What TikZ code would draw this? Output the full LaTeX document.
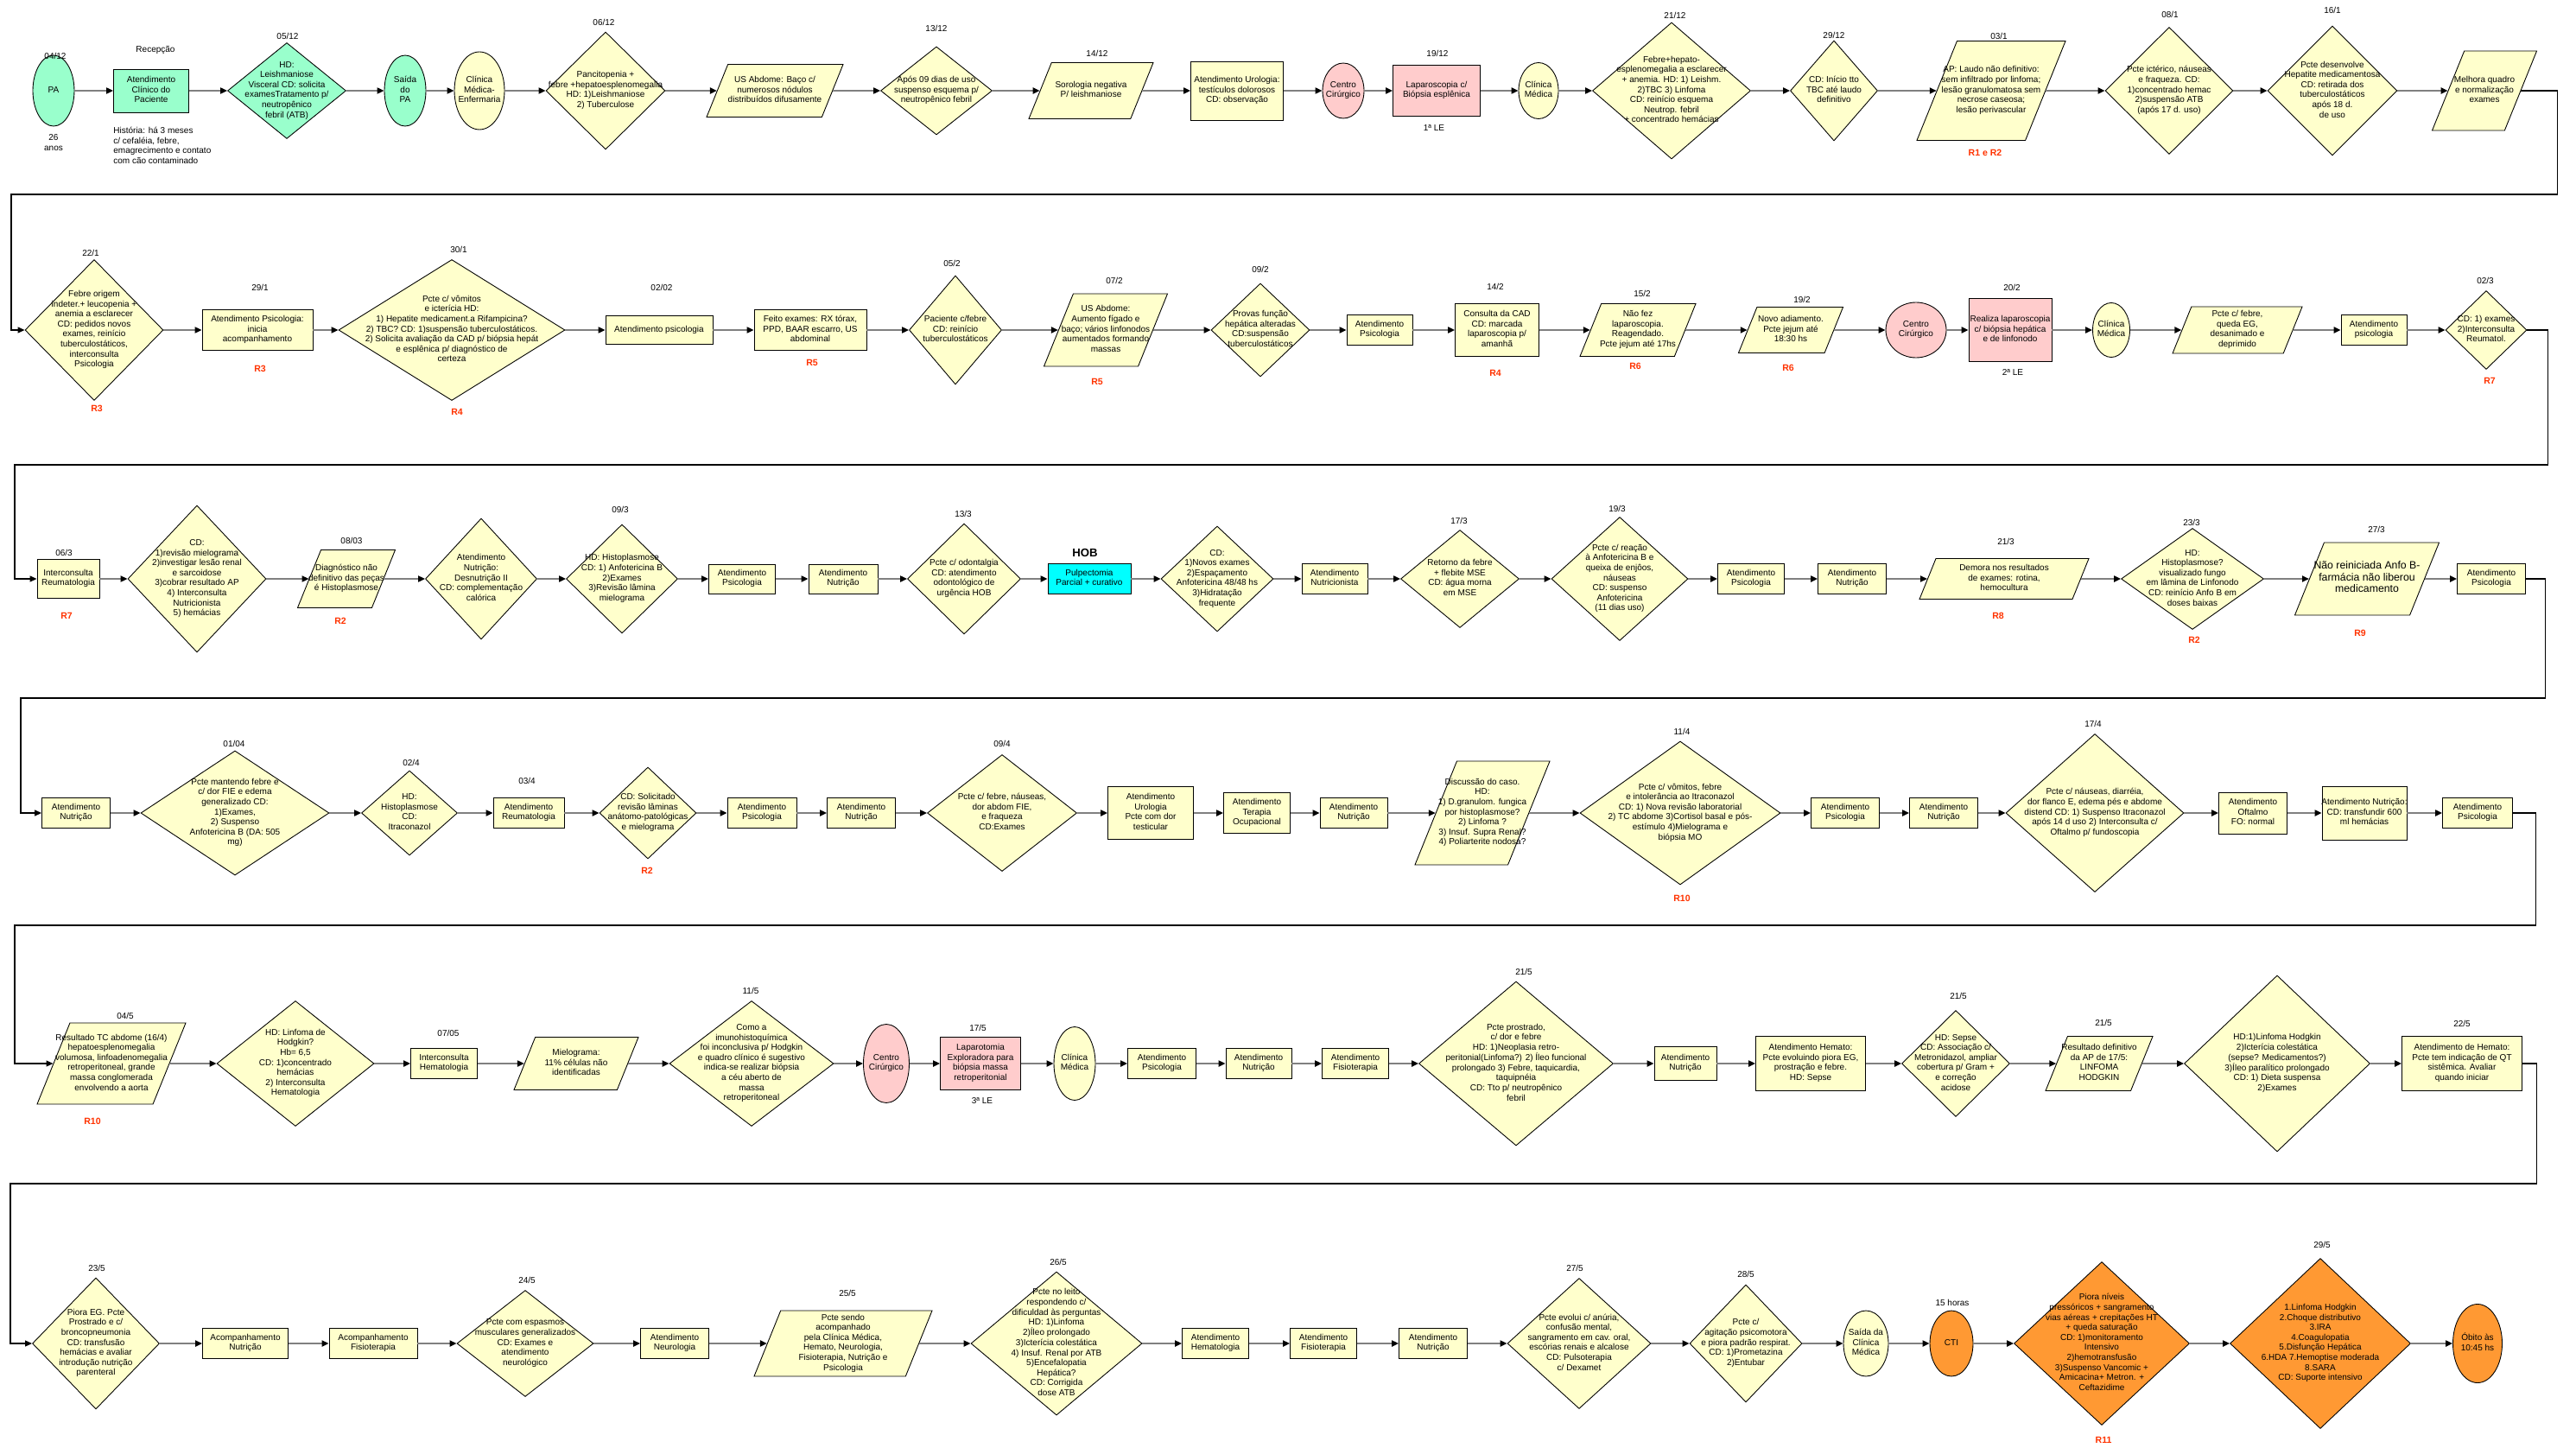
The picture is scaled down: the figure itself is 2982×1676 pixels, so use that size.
\documentclass[tikz,border=0pt]{standalone}
\usepackage{fontspec}
\setmainfont{Liberation Sans}
\usetikzlibrary{shapes.geometric,arrows.meta}
\definecolor{ChartYellow}{HTML}{FFFFCC}
\definecolor{ChartGreen}{HTML}{99FFCC}
\definecolor{ChartPink}{HTML}{FFCCCC}
\definecolor{ChartCyan}{HTML}{00FFFF}
\definecolor{ChartOrange}{HTML}{FF9933}
\definecolor{ChartRed}{HTML}{FF3300}
\definecolor{ChartGray}{HTML}{808080}
\newcommand{\nodetext}[1]{\makebox[0pt]{\smash{\raisebox{-1.4pt}{\begin{tabular}{@{}c@{}}#1\end{tabular}}}}}

\begin{document}
\begin{tikzpicture}[x=0.02cm, y=-0.02cm,
    font=\fontsize{5.7}{6.6}\selectfont,
    shp/.style={draw=black, line width=0.5pt, inner sep=0pt, fill=ChartYellow},
    box/.style 2 args={shp, rectangle, minimum width=#1*0.02cm, minimum height=#2*0.02cm},
    dia/.style 2 args={shp, diamond, minimum width=#1*0.02cm, minimum height=#2*0.02cm},
    oval/.style 2 args={shp, ellipse, minimum width=#1*0.02cm, minimum height=#2*0.02cm},
    para/.style 2 args={shp, trapezium, trapezium left angle=68, trapezium right angle=112,
        trapezium stretches body, minimum width=#1*0.02cm,
        text height=#2*0.01cm, text depth=#2*0.01cm},
    date/.style={inner sep=0pt},
    rtag/.style={inner sep=0pt, text=ChartRed, font=\fontsize{6}{7}\selectfont\bfseries},
    flow/.style={draw=ChartGray, line width=0.045cm, -{Triangle[length=0.16cm, width=0.14cm, color=black]}},
    ret/.style={draw=black, line width=0.6pt, -{Triangle[length=0.16cm, width=0.14cm]}}]
    \useasboundingbox[fill=white] (0,0) rectangle (2982,1676);

    % row 1
    \node[oval={48}{82}, fill=ChartGreen] (n1) at (62,105) {\nodetext{PA}};
    \node[box={87}{50}, fill=ChartGreen] (n2) at (175,105) {\nodetext{Atendimento\\Clínico do\\Paciente}};
    \node[dia={137}{111}, fill=ChartGreen] (n3) at (332,105) {\nodetext{HD:\\Leishmaniose\\Visceral  CD: solicita\\examesTratamento p/\\neutropênico\\febril (ATB)}};
    \node[oval={48}{82}, fill=ChartGreen] (n4) at (469,105) {\nodetext{Saída\\do\\PA}};
    \node[oval={58}{90}] (n5) at (555,105) {\nodetext{Clínica\\Médica-\\Enfermaria}};
    \node[dia={138}{136}] (n6) at (701,105) {\nodetext{Pancitopenia +\\febre +hepatoesplenomegalia\\HD: 1)Leishmaniose\\2) Tuberculose}};
    \node[para={158}{61}] (n7) at (897,105) {\nodetext{US Abdome: Baço c/\\numerosos nódulos\\distribuídos difusamente}};
    \node[dia={129}{102}] (n8) at (1084,105) {\nodetext{Após 09 dias de uso\\suspenso esquema p/\\neutropênico febril}};
    \node[para={144}{65}] (n9) at (1263,105) {\nodetext{Sorologia negativa\\P/ leishmaniose}};
    \node[box={107}{68}] (n10) at (1432,105) {\nodetext{Atendimento Urologia:\\testículos dolorosos\\CD: observação}};
    \node[oval={48}{64}, fill=ChartPink] (n11) at (1555,105) {\nodetext{Centro\\Cirúrgico}};
    \node[box={101}{59}, fill=ChartPink] (n12) at (1663,105) {\nodetext{Laparoscopia c/\\Biópsia esplênica}};
    \node[oval={46}{65}] (n13) at (1781,105) {\nodetext{Clínica\\Médica}};
    \node[dia={183}{158}] (n14) at (1935,105) {\nodetext{Febre+hepato-\\esplenomegalia a esclarecer\\+ anemia. HD: 1) Leishm.\\2)TBC 3) Linfoma\\CD: reinício esquema\\Neutrop. febril\\+ concentrado hemácias}};
    \node[dia={101}{116}] (n15) at (2123,105) {\nodetext{CD: Início tto\\TBC até laudo\\definitivo}};
    \node[para={172}{115}] (n16) at (2305,105) {\nodetext{AP: Laudo não definitivo:\\sem infiltrado por linfoma;\\lesão granulomatosa sem\\necrose caseosa;\\lesão perivascular}};
    \node[dia={148}{147}] (n17) at (2511,105) {\nodetext{Pcte ictérico, náuseas\\e fraqueza. CD:\\1)concentrado hemac\\2)suspensão ATB\\(após 17 d. uso)}};
    \node[dia={150}{150}] (n18) at (2700,105) {\nodetext{Pcte desenvolve\\Hepatite medicamentosa\\CD: retirada dos\\tuberculostáticos\\após 18 d.\\de uso}};
    \node[para={121}{92}] (n19) at (2876,105) {\nodetext{Melhora quadro\\e normalização\\exames}};

    \node[date] (d1) at (64,65) {04/12};
    \node[date, align=center] (age) at (62,165) {26\\anos};
    \node[date] (recep) at (180,58) {Recepção};
    \node[date, align=left, anchor=north west] (hist) at (131,147)
        {História: há 3 meses\\c/ cefaléia, febre,\\emagrecimento e contato\\com cão contaminado};
    \node[date] (d3) at (333,42) {05/12};
    \node[date] (d6) at (699,26) {06/12};
    \node[date] (d8) at (1084,33) {13/12};
    \node[date] (d9) at (1270,62) {14/12};
    \node[date] (d12) at (1664,62) {19/12};
    \node[date] (le1) at (1660,148) {1ª LE};
    \node[date] (d14) at (1939,18) {21/12};
    \node[date] (d15) at (2123,41) {29/12};
    \node[date] (d16) at (2314,42) {03/1};
    \node[rtag] (r16) at (2298,177) {R1  e R2};
    \node[date] (d17) at (2512,17) {08/1};
    \node[date] (d18) at (2700,12) {16/1};

    % row 2
    \node[dia={160}{163}] (n20) at (109,382) {\nodetext{Febre origem\\indeter.+ leucopenia +\\anemia  a esclarecer\\CD: pedidos novos\\exames, reinício\\tuberculostáticos,\\interconsulta\\Psicologia}};
    \node[box={128}{47}] (n21) at (298,382) {\nodetext{Atendimento Psicologia:\\inicia\\acompanhamento}};
    \node[dia={262}{163}] (n22) at (523,382) {\nodetext{Pcte c/ vômitos\\e icterícia HD:\\1) Hepatite medicament.a Rifampicina?\\2) TBC? CD: 1)suspensão tuberculostáticos.\\2) Solicita avaliação da CAD p/ biópsia hepát\\e esplênica p/ diagnóstico de\\certeza}};
    \node[box={124}{33}] (n23) at (763,382) {\nodetext{Atendimento psicologia}};
    \node[box={130}{47}] (n24) at (938,382) {\nodetext{Feito exames: RX tórax,\\PPD, BAAR escarro, US\\abdominal}};
    \node[dia={107}{126}] (n25) at (1106,382) {\nodetext{Paciente c/febre\\CD: reinício\\tuberculostáticos}};
    \node[para={143}{84}] (n26) at (1280,382) {\nodetext{US Abdome:\\Aumento fígado e\\baço; vários linfonodos\\aumentados formando\\massas}};
    \node[dia={114}{108}] (n27) at (1459,382) {\nodetext{Provas função\\hepática alteradas\\CD:suspensão\\tuberculostáticos}};
    \node[box={76}{35}] (n28) at (1597,382) {\nodetext{Atendimento\\Psicologia}};
    \node[box={97}{61}] (n29) at (1733,382) {\nodetext{Consulta da CAD\\CD: marcada\\laparoscopia p/\\amanhã}};
    \node[para={134}{61}] (n30) at (1896,382) {\nodetext{Não fez\\laparoscopia.\\Reagendado.\\Pcte jejum até 17hs}};
    \node[para={121}{53}] (n31) at (2073,382) {\nodetext{Novo adiamento.\\Pcte jejum até\\18:30 hs}};
    \node[oval={70}{64}, fill=ChartPink] (n32) at (2218,382) {\nodetext{Centro\\Cirúrgico}};
    \node[box={96}{73}, fill=ChartPink] (n33) at (2327,382) {\nodetext{Realiza laparoscopia\\c/ biópsia hepática\\e de linfonodo}};
    \node[oval={43}{63}] (n34) at (2444,382) {\nodetext{Clínica\\Médica}};
    \node[para={150}{54}] (n35) at (2590,382) {\nodetext{Pcte  c/ febre,\\queda EG,\\desanimado e\\deprimido}};
    \node[box={76}{35}] (n36) at (2748,382) {\nodetext{Atendimento\\psicologia}};
    \node[dia={94}{91}] (n37) at (2878,382) {\nodetext{CD: 1) exames\\2)Interconsulta\\Reumatol.}};

    \node[date] (d20) at (105,293) {22/1};
    \node[rtag] (r20) at (112,473) {R3};
    \node[date] (d21) at (301,333) {29/1};
    \node[rtag] (r21) at (301,427) {R3};
    \node[date] (d22) at (531,289) {30/1};
    \node[rtag] (r22) at (529,477) {R4};
    \node[date] (d23) at (766,333) {02/02};
    \node[rtag] (r24) at (940,420) {R5};
    \node[date] (d25) at (1102,305) {05/2};
    \node[date] (d26) at (1290,325) {07/2};
    \node[rtag] (r26) at (1270,442) {R5};
    \node[date] (d27) at (1459,312) {09/2};
    \node[date] (d29) at (1731,332) {14/2};
    \node[rtag] (r29) at (1731,432) {R4};
    \node[date] (d30) at (1901,340) {15/2};
    \node[rtag] (r30) at (1893,424) {R6};
    \node[date] (d31) at (2086,347) {19/2};
    \node[rtag] (r31) at (2070,426) {R6};
    \node[date] (d33) at (2329,333) {20/2};
    \node[date] (le2) at (2330,431) {2ª LE};
    \node[date] (d37) at (2877,325) {02/3};
    \node[rtag] (r37) at (2882,441) {R7};

    % row 3
    \node[box={72}{45}] (n38) at (79,670) {\nodetext{Interconsulta\\Reumatologia}};
    \node[dia={160}{170}] (n39) at (228,670) {\nodetext{CD:\\1)revisão mielograma\\2)investigar lesão renal\\e sarcoidose\\3)cobrar resultado AP\\4) Interconsulta\\Nutricionista\\5) hemácias}};
    \node[para={113}{67}] (n40) at (401,670) {\nodetext{Diagnóstico não\\definitivo das peças\\é  Histoplasmose}};
    \node[dia={129}{140}] (n41) at (557,670) {\nodetext{Atendimento\\Nutrição:\\Desnutrição II\\CD: complementação\\calórica}};
    \node[dia={129}{126}] (n42) at (720,670) {\nodetext{HD: Histoplasmose\\CD: 1) Anfotericina B\\2)Exames\\3)Revisão lâmina\\mielograma}};
    \node[box={77}{34}] (n43) at (859,670) {\nodetext{Atendimento\\Psicologia}};
    \node[box={80}{34}] (n44) at (976,670) {\nodetext{Atendimento\\Nutrição}};
    \node[dia={131}{128}] (n45) at (1116,670) {\nodetext{Pcte c/ odontalgia\\CD: atendimento\\odontológico de\\urgência HOB}};
    \node[box={96}{35}, fill=ChartCyan] (n46) at (1261,670) {\nodetext{Pulpectomia\\Parcial + curativo}};
    \node[dia={130}{122}] (n47) at (1409,670) {\nodetext{CD:\\1)Novos exames\\2)Espaçamento\\Anfotericina 48/48 hs\\3)Hidratação\\frequente}};
    \node[box={76}{35}] (n48) at (1545,670) {\nodetext{Atendimento\\Nutricionista}};
    \node[dia={137}{113}] (n49) at (1690,670) {\nodetext{Retorno da febre\\+ flebite MSE\\CD: água morna\\em MSE}};
    \node[dia={158}{143}] (n50) at (1875,670) {\nodetext{Pcte c/ reação\\à Anfotericina B e\\queixa de enjôos,\\náuseas\\CD: suspenso\\Anfotericina\\(11 dias uso)}};
    \node[box={77}{35}] (n51) at (2027,670) {\nodetext{Atendimento\\Psicologia}};
    \node[box={79}{35}] (n52) at (2144,670) {\nodetext{Atendimento\\Nutrição}};
    \node[para={196}{47}] (n53) at (2320,670) {\nodetext{Demora nos resultados\\de exames: rotina,\\hemocultura}};
    \node[dia={165}{117}] (n54) at (2538,670) {\nodetext{HD:\\Histoplasmose?\\visualizado fungo\\em lâmina de Linfonodo\\CD: reinício Anfo B em\\doses baixas}};
    \node[para={167}{84}, font=\fontsize{7}{7.8}\selectfont] (n55) at (2740,670) {\nodetext{Não reiniciada Anfo B-\\farmácia não liberou\\medicamento}};
    \node[box={79}{35}] (n56) at (2884,670) {\nodetext{Atendimento\\Psicologia}};

    \node[date] (d38) at (74,640) {06/3};
    \node[rtag] (r38) at (77,713) {R7};
    \node[date] (d40) at (407,626) {08/03};
    \node[rtag] (r40) at (394,719) {R2};
    \node[date] (d42) at (718,590) {09/3};
    \node[date] (d45) at (1115,595) {13/3};
    \node[inner sep=0pt, font=\fontsize{7.5}{8}\selectfont\bfseries] (hob) at (1256,640) {HOB};
    \node[date] (d49) at (1689,603) {17/3};
    \node[date] (d50) at (1872,589) {19/3};
    \node[date] (d53) at (2322,627) {21/3};
    \node[rtag] (r53) at (2313,713) {R8};
    \node[date] (d54) at (2537,605) {23/3};
    \node[rtag] (r54) at (2540,741) {R2};
    \node[date] (d55) at (2751,613) {27/3};
    \node[rtag] (r55) at (2732,733) {R9};

    % row 4
    \node[box={79}{35}] (n57) at (88,941) {\nodetext{Atendimento\\Nutrição}};
    \node[dia={218}{144}] (n58) at (272,941) {\nodetext{Pcte mantendo febre  e\\c/ dor FIE e edema\\generalizado CD:\\1)Exames,\\2) Suspenso\\Anfotericina B (DA: 505\\mg)}};
    \node[dia={111}{98}] (n59) at (474,941) {\nodetext{HD:\\Histoplasmose\\CD:\\Itraconazol}};
    \node[box={82}{35}] (n60) at (612,941) {\nodetext{Atendimento\\Reumatologia}};
    \node[dia={112}{106}] (n61) at (750,941) {\nodetext{CD: Solicitado\\revisão lâminas\\anátomo-patológicas\\e mielograma}};
    \node[box={80}{35}] (n62) at (882,941) {\nodetext{Atendimento\\Psicologia}};
    \node[box={79}{35}] (n63) at (997,941) {\nodetext{Atendimento\\Nutrição}};
    \node[dia={173}{135}] (n64) at (1160,941) {\nodetext{Pcte c/ febre,  náuseas,\\dor abdom FIE,\\e  fraqueza\\CD:Exames}};
    \node[box={99}{61}] (n65) at (1332,941) {\nodetext{Atendimento\\Urologia\\Pcte com dor\\testicular}};
    \node[box={77}{47}] (n66) at (1455,941) {\nodetext{Atendimento\\Terapia\\Ocupacional}};
    \node[box={78}{35}] (n67) at (1567,941) {\nodetext{Atendimento\\Nutrição}};
    \node[para={156}{120}] (n68) at (1716,941) {\nodetext{Discussão do caso.\\HD:\\1) D.granulom. fungica\\por histoplasmose?\\2) Linfoma ?\\3) Insuf. Supra Renal?\\4) Poliarterite nodosa?}};
    \node[dia={232}{166}] (n69) at (1945,941) {\nodetext{Pcte c/ vômitos, febre\\e intolerância ao Itraconazol\\CD: 1) Nova revisão laboratorial\\2) TC abdome 3)Cortisol basal e pós-\\estímulo 4)Mielograma e\\biópsia MO}};
    \node[box={79}{35}] (n70) at (2136,941) {\nodetext{Atendimento\\Psicologia}};
    \node[box={79}{35}] (n71) at (2250,941) {\nodetext{Atendimento\\Nutrição}};
    \node[dia={206}{183}] (n72) at (2425,941) {\nodetext{Pcte c/ náuseas, diarréia,\\dor flanco E, edema pés e abdome\\distend CD: 1) Suspenso Itraconazol\\após 14 d uso 2) Interconsulta c/\\Oftalmo p/ fundoscopia}};
    \node[box={79}{48}] (n73) at (2608,941) {\nodetext{Atendimento\\Oftalmo\\FO: normal}};
    \node[box={98}{62}] (n74) at (2737,941) {\nodetext{Atendimento Nutrição:\\CD: transfundir 600\\ml hemácias}};
    \node[box={81}{35}] (n75) at (2868,941) {\nodetext{Atendimento\\Psicologia}};

    \node[date] (d58) at (271,861) {01/04};
    \node[date] (d59) at (476,883) {02/4};
    \node[date] (d60) at (610,904) {03/4};
    \node[rtag] (r61) at (749,1008) {R2};
    \node[date] (d64) at (1160,861) {09/4};
    \node[date] (d69) at (1947,847) {11/4};
    \node[rtag] (r69) at (1947,1040) {R10};
    \node[date] (d72) at (2423,838) {17/4};

    % row 5
    \node[para={172}{94}] (n76) at (129,1231) {\nodetext{Resultado TC abdome (16/4)\\hepatoesplenomegalia\\volumosa, linfoadenomegalia\\retroperitoneal, grande\\massa conglomerada\\envolvendo a aorta}};
    \node[dia={182}{145}] (n77) at (342,1231) {\nodetext{HD: Linfoma de\\Hodgkin?\\Hb= 6,5\\CD: 1)concentrado\\hemácias\\2) Interconsulta\\Hematologia}};
    \node[box={77}{35}] (n78) at (514,1231) {\nodetext{Interconsulta\\Hematologia}};
    \node[para={144}{61}] (n79) at (667,1231) {\nodetext{Mielograma:\\11\% células não\\identificadas}};
    \node[dia={190}{145}] (n80) at (870,1231) {\nodetext{Como a\\imunohistoquímica\\foi inconclusiva p/  Hodgkin\\e quadro clínico é sugestivo\\indica-se realizar biópsia\\a céu aberto de\\massa\\retroperitoneal}};
    \node[oval={53}{91}, fill=ChartPink] (n81) at (1026,1231) {\nodetext{Centro\\Cirúrgico}};
    \node[box={93}{61}, fill=ChartPink] (n82) at (1135,1231) {\nodetext{Laparotomia\\Exploradora para\\biópsia massa\\retroperitonial}};
    \node[oval={48}{85}] (n83) at (1244,1231) {\nodetext{Clínica\\Médica}};
    \node[box={79}{35}] (n84) at (1345,1231) {\nodetext{Atendimento\\Psicologia}};
    \node[box={76}{35}] (n85) at (1457,1231) {\nodetext{Atendimento\\Nutrição}};
    \node[box={77}{35}] (n86) at (1569,1231) {\nodetext{Atendimento\\Fisioterapia}};
    \node[dia={225}{190}] (n87) at (1755,1231) {\nodetext{Pcte prostrado,\\c/ dor e febre\\HD: 1)Neoplasia retro-\\peritonial(Linfoma?) 2) Íleo funcional\\prolongado 3) Febre, taquicardia,\\taquipnéia\\CD: Tto p/ neutropênico\\febril}};
    \node[box={72}{39}] (n88) at (1951,1231) {\nodetext{Atendimento\\Nutrição}};
    \node[box={127}{63}] (n89) at (2096,1231) {\nodetext{Atendimento Hemato:\\Pcte evoluindo piora EG,\\prostração e febre.\\HD: Sepse}};
    \node[dia={125}{123}] (n90) at (2264,1231) {\nodetext{HD: Sepse\\CD: Associação c/\\Metronidazol, ampliar\\cobertura p/ Gram +\\e correção\\acidose}};
    \node[para={124}{63}] (n91) at (2430,1231) {\nodetext{Resultado definitivo\\da AP de 17/5:\\LINFOMA\\HODGKIN}};
    \node[dia={215}{204}] (n92) at (2636,1231) {\nodetext{HD:1)Linfoma Hodgkin\\2)Icterícia colestática\\(sepse? Medicamentos?)\\3)Íleo paralítico prolongado\\CD: 1) Dieta suspensa\\2)Exames}};
    \node[box={139}{63}] (n93) at (2850,1231) {\nodetext{Atendimento de Hemato:\\Pcte tem indicação de QT\\sistêmica. Avaliar\\quando iniciar}};

    \node[date] (d76) at (145,1176) {04/5};
    \node[rtag] (r76) at (107,1298) {R10};
    \node[date] (d78) at (519,1196) {07/05};
    \node[date] (d80) at (869,1147) {11/5};
    \node[date] (d82) at (1132,1190) {17/5};
    \node[date] (le3) at (1137,1274) {3ª LE};
    \node[date] (d87) at (1764,1125) {21/5};
    \node[date] (d90) at (2267,1153) {21/5};
    \node[date] (d91) at (2435,1184) {21/5};
    \node[date] (d93) at (2850,1185) {22/5};

    % row 6
    \node[dia={147}{152}] (n94) at (111,1555) {\nodetext{Piora EG. Pcte\\Prostrado e c/\\broncopneumonia\\CD: transfusão\\hemácias e avaliar\\introdução nutrição\\parenteral}};
    \node[box={99}{35}] (n95) at (284,1555) {\nodetext{Acompanhamento\\Nutrição}};
    \node[box={102}{35}] (n96) at (432,1555) {\nodetext{Acompanhamento\\Fisioterapia}};
    \node[dia={158}{123}] (n97) at (608,1555) {\nodetext{Pcte com espasmos\\musculares generalizados\\CD: Exames e\\atendimento\\neurológico}};
    \node[box={79}{35}] (n98) at (781,1555) {\nodetext{Atendimento\\Neurologia}};
    \node[para={206}{76}] (n99) at (976,1555) {\nodetext{Pcte sendo\\acompanhado\\pela Clínica Médica,\\Hemato, Neurologia,\\Fisioterapia, Nutrição e\\Psicologia}};
    \node[dia={198}{166}] (n100) at (1223,1555) {\nodetext{Pcte no leito\\respondendo c/\\dificuldad às perguntas\\HD: 1)Linfoma\\2)Íleo prolongado\\3)Icterícia colestática\\4) Insuf. Renal por ATB\\5)Encefalopatia\\Hepática?\\CD: Corrigida\\dose ATB}};
    \node[box={77}{35}] (n101) at (1407,1555) {\nodetext{Atendimento\\Hematologia}};
    \node[box={77}{35}] (n102) at (1532,1555) {\nodetext{Atendimento\\Fisioterapia}};
    \node[box={79}{35}] (n103) at (1659,1555) {\nodetext{Atendimento\\Nutrição}};
    \node[dia={166}{151}] (n104) at (1828,1555) {\nodetext{Pcte evolui c/ anúria,\\confusão mental,\\sangramento em cav. oral,\\escórias renais e alcalose\\CD: Pulsoterapia\\c/ Dexamet}};
    \node[dia={130}{136}] (n105) at (2021,1555) {\nodetext{Pcte c/\\agitação psicomotora\\e piora padrão respirat.\\CD: 1)Prometazina\\2)Entubar}};
    \node[oval={52}{76}] (n106) at (2160,1555) {\nodetext{Saída da\\Clínica\\Médica}};
    \node[oval={50}{76}, fill=ChartOrange] (n107) at (2259,1555) {\nodetext{CTI}};
    \node[dia={203}{189}, fill=ChartOrange] (n108) at (2433,1555) {\nodetext{Piora níveis\\pressóricos + sangramento\\vias aéreas + crepitações HT\\+ queda saturação\\CD: 1)monitoramento\\Intensivo\\2)hemotransfusão\\3)Suspenso Vancomic +\\Amicacina+ Metron.  +\\Ceftazidime}};
    \node[dia={209}{197}, fill=ChartOrange] (n109) at (2686,1555) {\nodetext{1.Linfoma Hodgkin\\2.Choque distributivo\\3.IRA\\4.Coagulopatia\\5.Disfunção Hepática\\6.HDA 7.Hemoptise moderada\\8.SARA\\CD: Suporte intensivo}};
    \node[oval={57}{91}, fill=ChartOrange] (n110) at (2868,1555) {\nodetext{Óbito às\\10:45 hs}};

    \node[date] (d94) at (112,1468) {23/5};
    \node[date] (d97) at (610,1482) {24/5};
    \node[date] (d99) at (981,1497) {25/5};
    \node[date] (d100) at (1225,1461) {26/5};
    \node[date] (d104) at (1823,1468) {27/5};
    \node[date] (d105) at (2021,1475) {28/5};
    \node[date] (hrs) at (2260,1508) {15 horas};
    \node[rtag] (r108) at (2435,1667) {R11};
    \node[date] (d109) at (2688,1441) {29/5};

    % arrows along each row
    \foreach \s/\e in {1/18,20/36,38/55,57/74,76/92,94/109}
        \foreach \i in {\s,...,\e} {
            \pgfmathtruncatemacro{\j}{\i+1}
            \draw[flow] (n\i) -- (n\j);
        }

    % turning from one row to the next
    \coordinate (c1a) at (2960,225);  \coordinate (c1b) at (13,225);
    \coordinate (c2a) at (2949,538);  \coordinate (c2b) at (17,538);
    \coordinate (c3a) at (2946,808);  \coordinate (c3b) at (24,808);
    \coordinate (c4a) at (2935,1071); \coordinate (c4b) at (17,1071);
    \coordinate (c5a) at (2936,1370); \coordinate (c5b) at (12,1370);
    \draw[ret] (n19.east) -| (c1a) -- (c1b) |- (n20.west);
    \draw[ret] (n37.east) -| (c2a) -- (c2b) |- (n38.west);
    \draw[ret] (n56.east) -| (c3a) -- (c3b) |- (n57.west);
    \draw[ret] (n75.east) -| (c4a) -- (c4b) |- (n76.west);
    \draw[ret] (n93.east) -| (c5a) -- (c5b) |- (n94.west);
\end{tikzpicture}
\end{document}
